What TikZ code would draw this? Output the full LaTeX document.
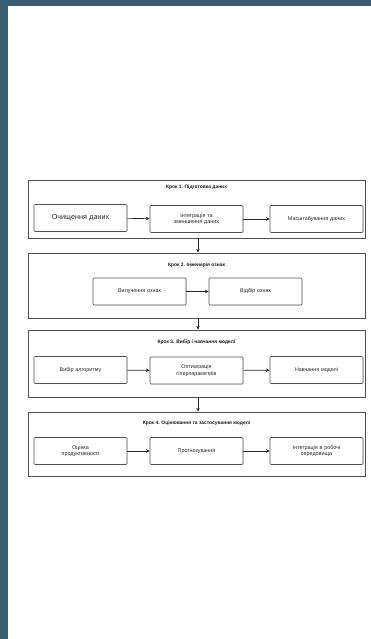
\documentclass[tikz,border=0pt]{standalone}
\usepackage{fontspec}
\setmainfont{Liberation Sans}
\usetikzlibrary{arrows.meta,shadows}
\definecolor{frame}{HTML}{3A5E71}
\definecolor{edge}{HTML}{505050}
\begin{document}
\begin{tikzpicture}[x=1pt,y=-1pt,
  stepbox/.style={draw=edge, line width=0.7pt, fill=white, minimum width=337pt,
    drop shadow={opacity=0.2, shadow xshift=0.8pt, shadow yshift=-0.8pt}},
  ttl/.style={font=\bfseries\fontsize{4.9}{5.8}\selectfont, text=black!90},
  inbox/.style={draw=edge, line width=0.6pt, fill=white, rounded corners=1pt,
    minimum width=93pt, minimum height=27pt, align=center, text width=86pt,
    font=\fontsize{5.4}{6.8}\selectfont, text=black!85,
    drop shadow={opacity=0.2, shadow xshift=0.7pt, shadow yshift=-0.7pt}},
  arr/.style={-{Stealth[length=3.8pt,width=3.4pt]}, line width=0.6pt, draw=black!85}]
\useasboundingbox (0,0) rectangle (371,639);
\fill[frame] (0,0) rectangle (371,639);
\fill[white] (8,6) rectangle (371,639);

% Step 1
\node[stepbox, minimum height=58pt] (s1) at (196.5,209) {};
\node[ttl] (t1) at (196.5,187) {Крок 1. Підготовка даних};
\node[inbox, font=\fontsize{7.2}{8.5}\selectfont] (a1) at (80.5,218) {Очищення даних};
\node[inbox] (b1) at (196.5,219) {Інтеграція та\\зменшення даних};
\node[inbox] (c1) at (316.5,219) {Масштабування даних};
\draw[arr] (a1) -- (b1);
\draw[arr] (b1) -- (c1);

% Step 2
\node[stepbox, minimum height=65pt] (s2) at (196.5,285.5) {};
\node[ttl] (t2) at (196.5,265) {Крок 2. Інженерія ознак};
\node[inbox] (d2) at (139.5,291.5) {Вилучення ознак};
\node[inbox] (e2) at (255.5,291.5) {Відбір ознак};
\draw[arr] (d2) -- (e2);

% Step 3
\node[stepbox, minimum height=67pt] (s3) at (196.5,363.5) {};
\node[ttl] (t3) at (196.5,342) {Крок 3. Вибір і навчання моделі};
\node[inbox] (f3) at (80.5,370) {Вибір алгоритму};
\node[inbox] (g3) at (196.5,370.5) {Оптимізація\\гіперпараметрів};
\node[inbox] (h3) at (316.5,370) {Навчання моделі};
\draw[arr] (f3) -- (g3);
\draw[arr] (g3) -- (h3);

% Step 4
\node[stepbox, minimum height=64pt] (s4) at (196.5,444) {};
\node[ttl] (t4) at (196.5,423) {Крок 4. Оцінювання та застосування моделі};
\node[inbox] (i4) at (80.5,451) {Оцінка\\продуктивності};
\node[inbox] (j4) at (196.5,451) {Прогнозування};
\node[inbox] (k4) at (316.5,451) {Інтеграція в робочі\\середовища};
\draw[arr] (i4) -- (j4);
\draw[arr] (j4) -- (k4);

% Between steps
\draw[arr] (s1.south -| 198,0) -- (s2.north -| 198,0);
\draw[arr] (s2.south -| 198,0) -- (s3.north -| 198,0);
\draw[arr] (s3.south -| 198,0) -- (s4.north -| 198,0);
\end{tikzpicture}
\end{document}
